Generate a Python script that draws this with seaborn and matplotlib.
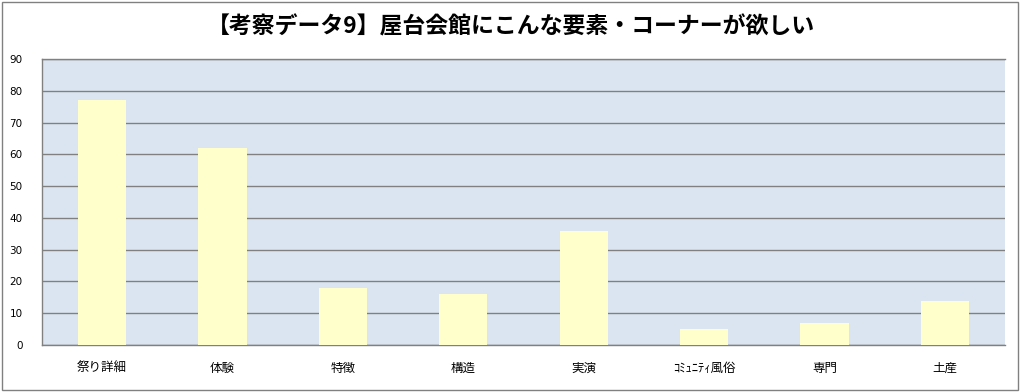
import matplotlib
matplotlib.use("Agg")
import matplotlib.pyplot as plt
import seaborn as sns
import pandas as pd
from matplotlib.patches import Rectangle

categories = ["祭り詳細", "体験", "特徴", "構造", "実演", "ｺﾐｭﾆﾃｨ風俗", "専門", "土産"]
values = [77, 62, 18, 16, 36, 5, 7, 14]
title = "【考察データ9】屋台会館にこんな要素・コーナーが欲しい"
yticks = list(range(0, 91, 10))

sns.set_theme(style="white")
plt.rcParams['font.family'] = ['Noto Sans CJK JP', 'DejaVu Sans']

df = pd.DataFrame({"cat": categories, "val": values})

fig = plt.figure(figsize=(10.21, 3.92), dpi=100)
ax = fig.add_axes([42/1021, 47/392, 963/1021, 286/392])
ax.set_facecolor("#DBE5F1")

sns.barplot(data=df, x="cat", y="val", color="#FFFFCC", width=0.4,
            saturation=1, ax=ax, zorder=3, edgecolor="none", linewidth=0)

ax.set_ylim(0, 90)
ax.set_yticks(yticks)
ax.set_xlim(-0.5, len(categories) - 0.5)
ax.yaxis.grid(True, color="#808080", linewidth=1, zorder=1)
ax.set_axisbelow(True)
for s in ["left", "bottom", "top"]:
    ax.spines[s].set_color("#808080")
    ax.spines[s].set_linewidth(1)
ax.spines["right"].set_visible(False)
ax.set_xlabel("")
ax.set_ylabel("")
ax.tick_params(axis="both", length=0, colors="black")
ax.tick_params(axis="x", pad=12, labelsize=9)
ax.tick_params(axis="y", pad=14)
for lbl in ax.get_yticklabels():
    lbl.set_family("DejaVu Sans")
    lbl.set_fontsize(7.5)

fig.text(0.5, 1 - 27/392, title, ha="center", va="center",
         fontsize=16.5, fontweight="bold", color="black")

fig.patches.append(Rectangle((2/1021, 2/392), 1016/1021, 388/392,
                             transform=fig.transFigure, fill=False,
                             edgecolor="#808080", linewidth=1))

fig.savefig("out.png", dpi=100)
